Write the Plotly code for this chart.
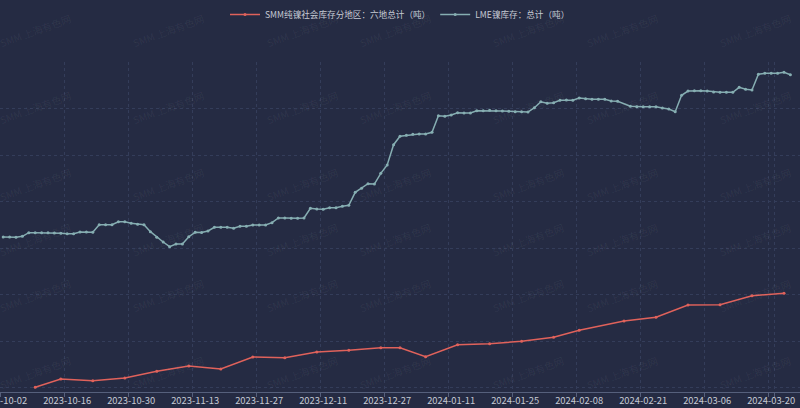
import pandas as pd
import plotly.graph_objects as go

# ---------------- data ----------------
UK_HOLIDAYS = ["2023-12-25", "2023-12-26", "2024-01-01"]
lme_dates = [d.strftime("%Y-%m-%d") for d in pd.bdate_range("2023-10-02", "2024-03-25")
             if d.strftime("%Y-%m-%d") not in UK_HOLIDAYS]

lme_values = [
    42365, 42365, 42300, 42515, 43290, 43290, 43290, 43290, 43225, 43160,
    43075, 43075, 43440, 43440, 43375, 45010, 45010, 45010, 45655, 45655,
    45310, 45095, 45010, 43505, 42300, 41290, 40280, 40860, 40860, 42430,
    43375, 43330, 43655, 44450, 44450, 44450, 44235, 44665, 44665, 44945,
    44945, 44945, 45440, 46450, 46450, 46385, 46385, 46450, 48535, 48385,
    48320, 48665, 48665, 48965, 49180, 51975, 52840, 53830, 53760, 56065,
    57850, 62215, 64040, 64235, 64450, 64515, 64515, 64880, 68450, 68320,
    68600, 69095, 69030, 69030, 69525, 69525, 69610, 69525, 69460, 69395,
    69310, 69310, 69245, 70170, 71460, 71115, 71245, 71760, 71830, 71760,
    72255, 72105, 71975, 71975, 71975, 71610, 71545,
    70470, 70385, 70385, 70385, 70385, 70105, 69890, 69310, 72840, 73760, 73825, 73825,
    73760, 73545, 73480, 73480, 73480, 74560, 74125, 73980, 77355, 77570, 77570, 77570, 77785, 77270,
]

smm_dates = [
    "2023-10-09", "2023-10-13", "2023-10-20", "2023-10-27", "2023-11-03", "2023-11-10",
    "2023-11-17", "2023-11-24", "2023-12-01", "2023-12-08", "2023-12-15", "2023-12-22",
    "2023-12-29", "2024-01-05", "2024-01-12", "2024-01-19", "2024-01-26", "2024-02-02",
    "2024-02-08", "2024-02-18", "2024-02-23", "2024-03-01", "2024-03-08", "2024-03-15",
    "2024-03-22",
]
smm_values = [
    5010, 5366, 5292, 5409, 5697, 5925,
    5796, 6312, 6282, 6527, 6600, 6712,
    6712, 6325, 6841, 6884, 6987, 7159,
    7460, 7860, 8019, 8548, 8561, 8948,
    9052,
]

categories = sorted(set(lme_dates) | set(smm_dates))
tick_labels = categories[::10]

SMM_NAME = "SMM纯镍社会库存分地区：六地总计（吨）"
LME_NAME = "LME镍库存：总计（吨）"

# ---------------- style ----------------
BG = "#252b43"
GRID = "#343d5a"
AXIS = "#56607c"
TXT = "#c6cad4"
RED = "#e0625b"
TEAL = "#86aeb2"
FONT = "Noto Sans CJK SC, sans-serif"

fig = go.Figure()
fig.add_trace(go.Scatter(
    x=smm_dates, y=smm_values, name=SMM_NAME, mode="lines+markers",
    line=dict(color=RED, width=1.5), marker=dict(size=3, color=RED),
    yaxis="y2",
))
fig.add_trace(go.Scatter(
    x=lme_dates, y=lme_values, name=LME_NAME, mode="lines+markers",
    line=dict(color=TEAL, width=1.5), marker=dict(size=3, color=TEAL),
))

# watermark (positions in window pixels)
wm_x = [-5, 128, 262, 395, 528, 662, 795]
wm_y = [8, 85, 162, 240, 318, 395]
for yy in wm_y:
    for xx in wm_x:
        fig.add_annotation(
            x=xx / 800, y=(392 - yy) / 330, xref="paper", yref="paper",
            text="SMM 上海有色网", showarrow=False, textangle=-20,
            font=dict(family=FONT, size=10, color="rgba(255,255,255,0.065)"),
        )

fig.update_layout(
    width=800, height=408,
    paper_bgcolor=BG, plot_bgcolor=BG,
    margin=dict(l=0, r=0, t=62, b=16, autoexpand=False),
    font=dict(family=FONT, color=TXT, size=9.4),
    showlegend=True,
    legend=dict(
        orientation="h", x=0.5, xanchor="center", y=1.0, yref="container", yanchor="top",
        font=dict(family=FONT, size=8.6, color=TXT), bgcolor="rgba(0,0,0,0)",
        itemwidth=30, tracegroupgap=0,
    ),
    xaxis=dict(
        type="category", categoryorder="array", categoryarray=categories,
        range=[-0.5, 124.5], tickmode="array", tickvals=tick_labels, ticktext=tick_labels,
        tickson="boundaries", ticks="outside", ticklen=4, tickcolor=AXIS, tickangle=0,
        automargin=False,
        showline=True, linecolor=AXIS, linewidth=1,
        showgrid=True, gridcolor=GRID, griddash="3px,3px", gridwidth=1,
        tickfont=dict(family=FONT, size=9.4, color=TXT), zeroline=False,
    ),
    yaxis=dict(
        range=[9032, 80000], tick0=0, dtick=10000, showticklabels=False, automargin=False,
        showgrid=True, gridcolor=GRID, griddash="3px,3px", zeroline=False, showline=False,
    ),
    yaxis2=dict(
        range=[4806.5, 19000], overlaying="y", side="right", showticklabels=False,
        showgrid=False, zeroline=False, showline=False, automargin=False,
    ),
)

fig.write_html("out.html")
